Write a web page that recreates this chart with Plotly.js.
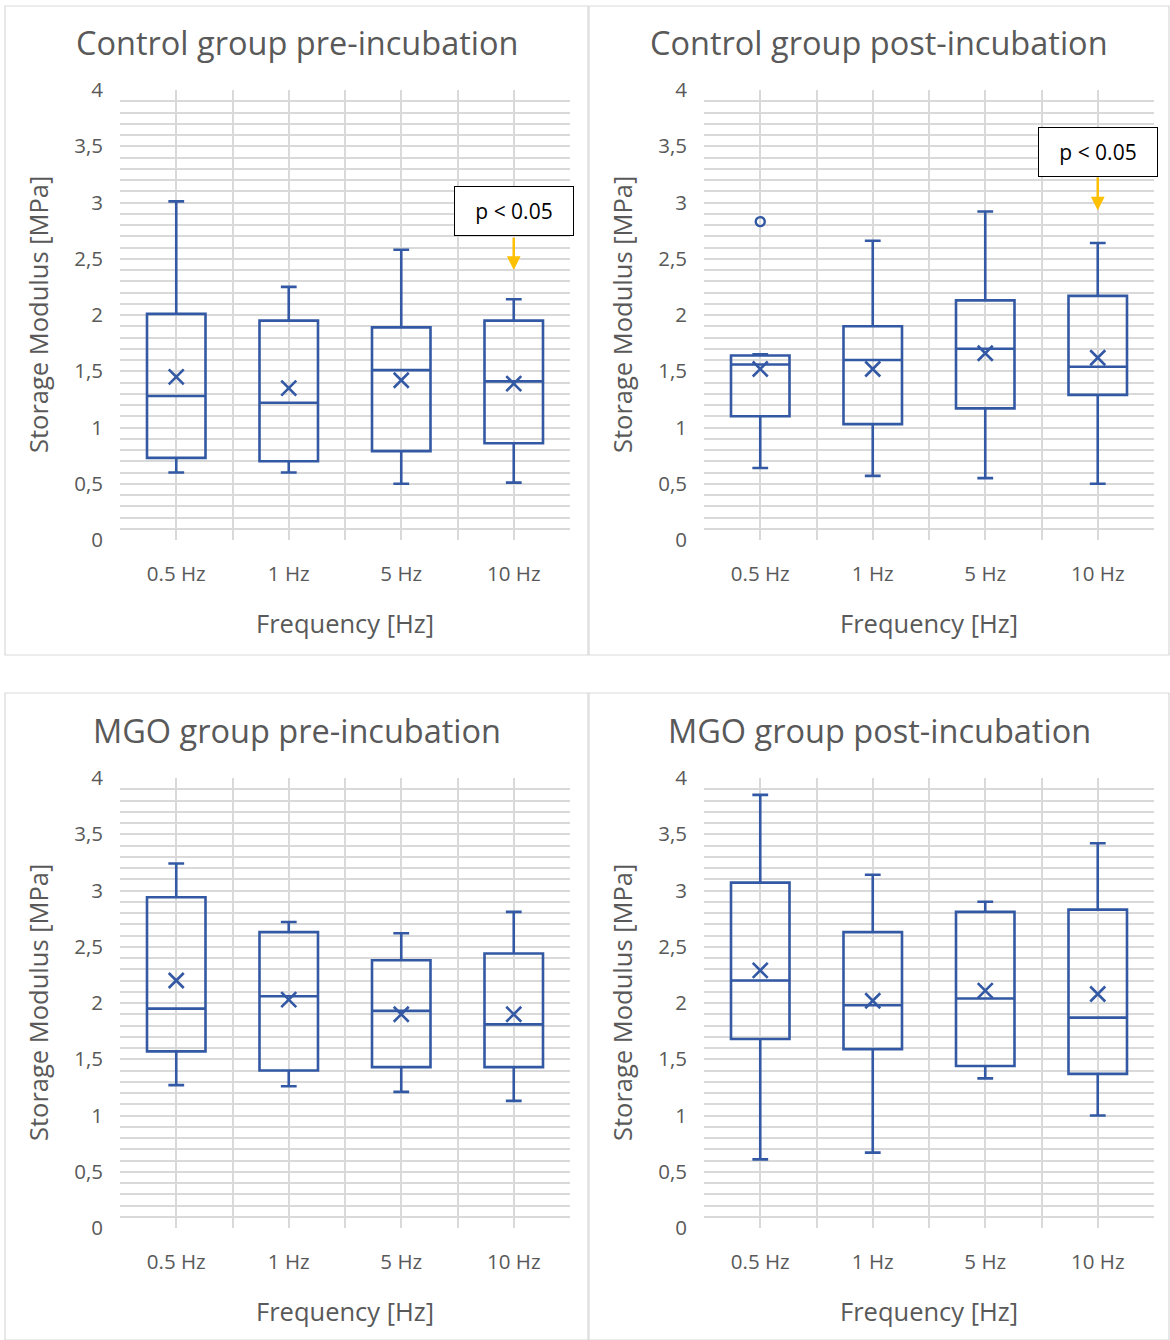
<!DOCTYPE html>
<html>
<head>
<meta charset="utf-8">
<script src="https://cdn.plot.ly/plotly-3.0.1.min.js"></script>
<style>html,body{margin:0;padding:0;background:#fff;}#chart{width:1170px;height:1340px;}</style>
</head>
<body>
<div id="chart"></div>
<script>
// ---- Data ----
const categories = ['0.5 Hz', '1 Hz', '5 Hz', '10 Hz'];
const yTickVals = [0, 0.5, 1, 1.5, 2, 2.5, 3, 3.5, 4];
const yTickText = ['0', '0,5', '1', '1,5', '2', '2,5', '3', '3,5', '4'];

// Control group pre-incubation
const ctrlPreLow  = [0.60, 0.60, 0.50, 0.51];
const ctrlPreQ1   = [0.73, 0.70, 0.79, 0.86];
const ctrlPreMed  = [1.28, 1.22, 1.51, 1.41];
const ctrlPreQ3   = [2.01, 1.95, 1.89, 1.95];
const ctrlPreUp   = [3.01, 2.25, 2.58, 2.14];
const ctrlPreMean = [1.45, 1.35, 1.42, 1.39];

// Control group post-incubation
const ctrlPostLow  = [0.64, 0.57, 0.55, 0.50];
const ctrlPostQ1   = [1.10, 1.03, 1.17, 1.29];
const ctrlPostMed  = [1.56, 1.60, 1.70, 1.54];
const ctrlPostQ3   = [1.64, 1.90, 2.13, 2.17];
const ctrlPostUp   = [1.65, 2.66, 2.92, 2.64];
const ctrlPostMean = [1.52, 1.52, 1.66, 1.62];
const ctrlPostOutlierCat = ['0.5 Hz'];
const ctrlPostOutlierVal = [2.83];

// MGO group pre-incubation
const mgoPreLow  = [1.27, 1.26, 1.21, 1.13];
const mgoPreQ1   = [1.57, 1.40, 1.43, 1.43];
const mgoPreMed  = [1.95, 2.06, 1.93, 1.81];
const mgoPreQ3   = [2.94, 2.63, 2.38, 2.44];
const mgoPreUp   = [3.24, 2.72, 2.62, 2.81];
const mgoPreMean = [2.20, 2.03, 1.90, 1.90];

// MGO group post-incubation
const mgoPostLow  = [0.61, 0.67, 1.33, 1.00];
const mgoPostQ1   = [1.68, 1.59, 1.44, 1.37];
const mgoPostMed  = [2.20, 1.98, 2.04, 1.87];
const mgoPostQ3   = [3.07, 2.63, 2.81, 2.83];
const mgoPostUp   = [3.85, 3.14, 2.90, 3.42];
const mgoPostMean = [2.29, 2.02, 2.11, 2.08];

// Significance annotation
const sigText = 'p < 0.05';
const sigCat = '10 Hz';

// ---- Layout helpers ----
const W = 1170, H = 1340;
const px = x => x / W;
const py = y => 1 - y / H;
const BLUE = '#3358A4';
const GRID = '#d9d9d9';
const TXT = '#595959';
const FONT = 'Open Sans, Noto Sans, sans-serif';
const idx = cats => cats.map(c => categories.indexOf(c));

const panels = [
  {title: 'Control group pre-incubation', low: ctrlPreLow, q1: ctrlPreQ1, med: ctrlPreMed, q3: ctrlPreQ3, up: ctrlPreUp, mean: ctrlPreMean,
   x0: 120, x1: 570, y0: 90, y1: 540, frame: [5, 6, 588, 655], sig: {box: 2.92, tail: 2.70, head: 2.40}},
  {title: 'Control group post-incubation', low: ctrlPostLow, q1: ctrlPostQ1, med: ctrlPostMed, q3: ctrlPostQ3, up: ctrlPostUp, mean: ctrlPostMean,
   x0: 704, x1: 1154, y0: 90, y1: 540, frame: [589, 6, 1169, 655], sig: {box: 3.45, tail: 3.236, head: 2.93},
   outCat: ctrlPostOutlierCat, outVal: ctrlPostOutlierVal},
  {title: 'MGO group pre-incubation', low: mgoPreLow, q1: mgoPreQ1, med: mgoPreMed, q3: mgoPreQ3, up: mgoPreUp, mean: mgoPreMean,
   x0: 120, x1: 570, y0: 778, y1: 1228, frame: [5, 693, 588, 1340]},
  {title: 'MGO group post-incubation', low: mgoPostLow, q1: mgoPostQ1, med: mgoPostMed, q3: mgoPostQ3, up: mgoPostUp, mean: mgoPostMean,
   x0: 704, x1: 1154, y0: 778, y1: 1228, frame: [589, 693, 1169, 1340]}
];

const traces = [];
const layout = {
  width: W, height: H,
  margin: {l: 0, r: 0, t: 0, b: 0},
  paper_bgcolor: '#fff', plot_bgcolor: '#fff',
  showlegend: false,
  font: {family: FONT, color: TXT},
  annotations: [], shapes: []
};

const minorY = [];
for (let i = 1; i < 40; i++) if (i % 5 !== 0) minorY.push(i / 10);

panels.forEach((p, k) => {
  const n = k === 0 ? '' : String(k + 1);
  const xa = 'x' + n, ya = 'y' + n;
  const xs = categories.map((c, i) => i);

  layout['xaxis' + n] = {
    domain: [px(p.x0), px(p.x1)], anchor: ya,
    range: [-0.5, 3.5], tickmode: 'array', tickvals: xs, ticktext: categories,
    showgrid: true, gridcolor: GRID, gridwidth: 2,
    minor: {tickmode: 'array', tickvals: [-0.5, 0.5, 1.5, 2.5, 3.5], showgrid: true, gridcolor: GRID, gridwidth: 2},
    zeroline: false, showline: false, ticks: '',
    tickfont: {size: 20.5, color: TXT, family: FONT}, ticklabelstandoff: 19, fixedrange: true
  };
  layout['yaxis' + n] = {
    domain: [py(p.y1), py(p.y0)], anchor: xa,
    range: [0, 4], tickmode: 'array', tickvals: yTickVals, ticktext: yTickText,
    showgrid: true, gridcolor: GRID, gridwidth: 2,
    minor: {tickmode: 'array', tickvals: minorY, showgrid: true, gridcolor: GRID, gridwidth: 2},
    zeroline: false, showline: false, ticks: '',
    tickfont: {size: 20.5, color: TXT, family: FONT}, ticklabelstandoff: 16, fixedrange: true
  };

  traces.push({
    type: 'box', x: xs, q1: p.q1, median: p.med, q3: p.q3, lowerfence: p.low, upperfence: p.up,
    boxpoints: false, width: 0.52, whiskerwidth: 0.27,
    line: {color: BLUE, width: 2.6}, fillcolor: 'rgba(0,0,0,0)',
    xaxis: xa, yaxis: ya, showlegend: false, hoverinfo: 'skip'
  });
  traces.push({
    type: 'scatter', mode: 'markers', x: xs, y: p.mean,
    marker: {symbol: 'x-thin', size: 15, color: BLUE, line: {color: BLUE, width: 2.6}},
    xaxis: xa, yaxis: ya, showlegend: false, hoverinfo: 'skip', cliponaxis: false
  });
  if (p.outCat) {
    traces.push({
      type: 'scatter', mode: 'markers', x: idx(p.outCat), y: p.outVal,
      marker: {symbol: 'circle-open', size: 9, color: BLUE, line: {color: BLUE, width: 2.4}},
      xaxis: xa, yaxis: ya, showlegend: false, hoverinfo: 'skip'
    });
  }

  // panel frame
  const f = p.frame;
  layout.shapes.push({type: 'rect', xref: 'paper', yref: 'paper',
    x0: px(f[0]), x1: px(f[2]), y0: py(f[3]), y1: py(f[1]),
    line: {color: GRID, width: 1.2}, fillcolor: 'rgba(0,0,0,0)', layer: 'below'});

  const cx = (p.x0 + p.x1) / 2;
  const fcx = (f[0] + f[2]) / 2;
  // panel title
  layout.annotations.push({xref: 'paper', yref: 'paper', x: px(fcx), y: py(p.y0 - 48),
    text: p.title, showarrow: false, xanchor: 'center', yanchor: 'middle',
    font: {size: 32.5, color: TXT, family: FONT}});
  // x axis title
  layout.annotations.push({xref: 'paper', yref: 'paper', x: px(cx), y: py(p.y1 + 83),
    text: 'Frequency [Hz]', showarrow: false, xanchor: 'center', yanchor: 'middle',
    font: {size: 25.5, color: TXT, family: FONT}});
  // y axis title
  layout.annotations.push({xref: 'paper', yref: 'paper', x: px(p.x0 - 82), y: py((p.y0 + p.y1) / 2),
    text: 'Storage Modulus [MPa]', showarrow: false, textangle: -90, xanchor: 'center', yanchor: 'middle',
    font: {size: 25.5, color: TXT, family: FONT}});

  if (p.sig) {
    const sx = categories.indexOf(sigCat);
    layout.annotations.push({xref: xa, yref: ya, x: sx, y: p.sig.head, ax: sx, ay: p.sig.tail,
      axref: xa, ayref: ya, text: '', showarrow: true, arrowhead: 2, arrowsize: 1.1, arrowwidth: 2.5,
      arrowcolor: '#FFC000', standoff: 0, startstandoff: 0});
    layout.annotations.push({xref: xa, yref: ya, x: sx, y: p.sig.box, text: sigText, showarrow: false,
      xanchor: 'center', yanchor: 'middle', bgcolor: '#fff', bordercolor: '#000', borderwidth: 1,
      borderpad: 1, width: 116, height: 46, font: {size: 21, color: '#000', family: FONT}});
  }
});

Plotly.newPlot('chart', traces, layout, {staticPlot: true, displayModeBar: false});
</script>
</body>
</html>
